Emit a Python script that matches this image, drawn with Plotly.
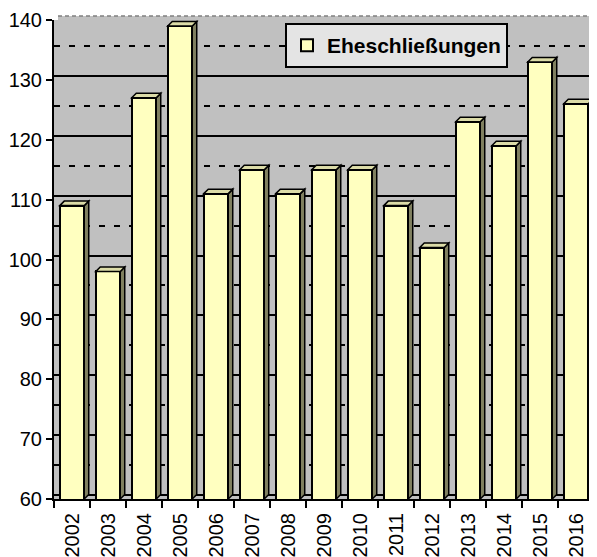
import plotly.graph_objects as go

years = [2002, 2003, 2004, 2005, 2006, 2007, 2008, 2009, 2010, 2011, 2012, 2013, 2014, 2015, 2016]
values = [109, 98, 127, 139, 111, 115, 111, 115, 115, 109, 102, 123, 119, 133, 126]
series_name = "Eheschließungen"
y_ticks = [60, 70, 80, 90, 100, 110, 120, 130, 140]

# page body has an 8px margin; compensate so the plot lands where the reference has it
BODY = 8
W_FIG, H_FIG = 597 - BODY, 557 - BODY
M_L, M_R, M_T, M_B = 54 - BODY, 3, 20 - BODY, 58
PLOT_W = W_FIG - M_L - M_R
PLOT_H = H_FIG - M_T - M_B
Y_MIN, Y_MAX = 60, 140
X_MIN, X_MAX = years[0] - 0.5, years[-1] + 0.5
DEPTH = 4.5  # px of 3D depth
BAR_W = 0.68

px_x = PLOT_W / (X_MAX - X_MIN)
px_y = PLOT_H / (Y_MAX - Y_MIN)
dx = DEPTH / px_x
dy = DEPTH / px_y
wall_dy = 4 / px_y

FRONT = "#FFFFC0"
SIDE = "#808060"
TOP = "#DCDCA8"
WALL = "#C0C0C0"

fig = go.Figure()
fig.add_trace(go.Bar(
    x=years, y=values, name=series_name, width=BAR_W,
    marker=dict(color=FRONT, line=dict(color="black", width=2)),
))
# dummy trace for wall grid axis
fig.add_trace(go.Scatter(x=[], y=[], yaxis="y2", showlegend=False, hoverinfo="skip"))

shapes = []
# wall extension above/right of plot area
shapes.append(dict(type="rect", xref="paper", yref="paper",
                   x0=4 / PLOT_W, x1=1 + M_R / PLOT_W, y0=0, y1=1 + 4 / PLOT_H,
                   fillcolor=WALL, line=dict(width=0), layer="below"))
shapes.append(dict(type="line", xref="paper", yref="paper",
                   x0=4 / PLOT_W, x1=1 + M_R / PLOT_W, y0=1 + 4 / PLOT_H, y1=1 + 4 / PLOT_H,
                   line=dict(color="#808080", width=1.5, dash="4px,3px"), layer="below"))
for xv, v in zip(years, values):
    xl = xv - BAR_W / 2
    xr = xv + BAR_W / 2
    side = f"M {xr},{Y_MIN} L {xr},{v} L {xr+dx},{v+dy} L {xr+dx},{Y_MIN+dy} Z"
    top = f"M {xl},{v} L {xl+dx},{v+dy} L {xr+dx},{v+dy} L {xr},{v} Z"
    shapes.append(dict(type="path", path=side, xref="x", yref="y",
                       fillcolor=SIDE, line=dict(color="black", width=1.5), layer="above"))
    shapes.append(dict(type="path", path=top, xref="x", yref="y",
                       fillcolor=TOP, line=dict(color="black", width=1.5), layer="above"))

font_family = "Liberation Sans, Arial, sans-serif"

fig.update_layout(
    width=W_FIG, height=H_FIG,
    margin=dict(l=M_L, r=M_R, t=M_T, b=M_B, pad=0, autoexpand=False),
    paper_bgcolor="white",
    plot_bgcolor=WALL,
    bargap=0,
    shapes=shapes,
    font=dict(family=font_family, color="black", size=20),
    showlegend=True,
    legend=dict(
        x=(285 - 54) / PLOT_W, y=1 - (23 - 20) / PLOT_H,
        xanchor="left", yanchor="top",
        bgcolor="#E4E4E4", bordercolor="black", borderwidth=2,
        font=dict(family=font_family, size=21, color="black", weight="bold"),
        itemclick=False,
    ),
    xaxis=dict(
        range=[X_MIN, X_MAX], tickvals=years, ticktext=[str(y) for y in years],
        tickangle=-90, ticks="outside", ticklen=4, tickcolor="rgba(0,0,0,0)",
        showline=True, linecolor="black", linewidth=2,
        showgrid=False, zeroline=False, fixedrange=True, automargin=False,
        tickfont=dict(size=20),
        minor=dict(tick0=X_MIN, dtick=1, ticks="outside", ticklen=7, tickwidth=2,
                   tickcolor="black", showgrid=False),
    ),
    yaxis=dict(
        range=[Y_MIN, Y_MAX], tickvals=y_ticks, ticks="outside", ticklen=6, tickwidth=2,
        tickcolor="black", showline=True, linecolor="black", linewidth=2,
        showgrid=False, zeroline=False, fixedrange=True, automargin=False,
        tickfont=dict(size=20),
    ),
    yaxis2=dict(
        overlaying="y", side="left", range=[Y_MIN - wall_dy, Y_MAX - wall_dy],
        dtick=10, tick0=0, showticklabels=False, ticks="", showline=False,
        showgrid=True, gridcolor="black", gridwidth=2, zeroline=False,
        fixedrange=True, automargin=False,
        minor=dict(dtick=5, tick0=0, showgrid=True, gridcolor="black", gridwidth=2,
                   griddash="6px,9px"),
    ),
)

fig.write_html("out.html")
